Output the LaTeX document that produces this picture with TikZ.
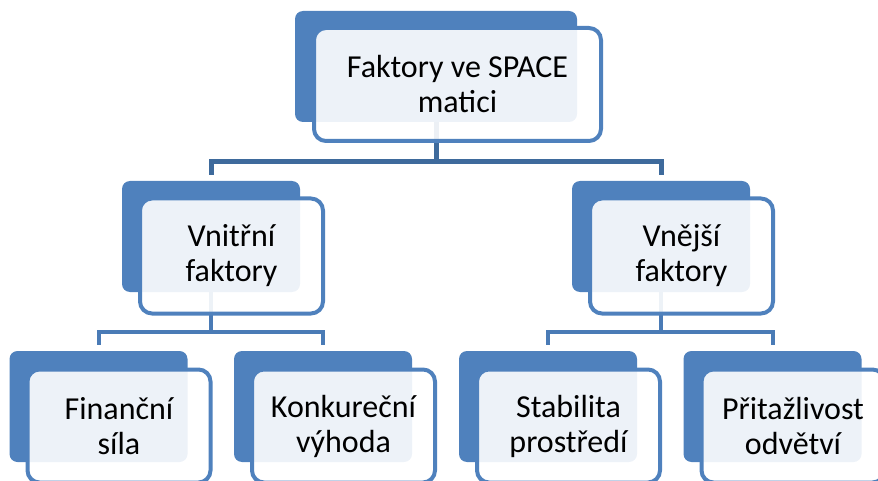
\documentclass[tikz,border=0pt]{standalone}
\usepackage{fontspec}
\setmainfont{Carlito}
\definecolor{spaceblue}{HTML}{4F81BD}
\definecolor{linkdark}{HTML}{3E6A9C}
\definecolor{linklight}{HTML}{4A7BB6}
\tikzset{
  backbox/.style={fill=spaceblue, rounded corners=8pt, inner sep=0pt,
    minimum width=178pt, minimum height=111pt},
  frontbox/.style={draw=spaceblue, line width=4pt, fill=white,
    fill opacity=0.9, text opacity=1, rounded corners=12pt, inner sep=0pt,
    minimum width=183pt, minimum height=115pt, align=center,
    font=\fontsize{32}{35}\selectfont},
  conn/.style={line width=5pt, draw=linkdark},      % top level links
  subconn/.style={line width=4pt, draw=linklight}   % lower links
}

\begin{document}
\begin{tikzpicture}[x=1pt,y=-1pt]
  \clip (0,0) rectangle (878,481);
  % dark boxes behind
  \node[backbox, minimum width=282pt] (faktoryb) at (436,66.5) {};
  \node[backbox] (vnitrnib)   at (211,236.5)   {};
  \node[backbox] (vnejsib)    at (661,236.5)   {};
  \node[backbox] (financnib)  at (98.5,406.5)  {};
  \node[backbox] (konkurb)    at (323,406.5)   {};
  \node[backbox] (stabilitab) at (548,406.5)   {};
  \node[backbox] (pritazb)    at (772.5,406.5) {};

  % links, drawn before the light boxes
  \coordinate (faktoryj) at ([yshift=-39pt]faktoryb.south);
  \draw[conn] (faktoryb.south) -- (faktoryj);
  \draw[conn] (faktoryj) -| ([yshift=6pt]vnitrnib.north);
  \draw[conn] (faktoryj) -| ([yshift=6pt]vnejsib.north);

  \coordinate (vnitrnij) at ([yshift=-40pt]vnitrnib.south);
  \draw[subconn] (vnitrnib.south) -- (vnitrnij);
  \draw[subconn] (vnitrnij) -| ([yshift=6pt]financnib.north);
  \draw[subconn] (vnitrnij) -| ([yshift=6pt]konkurb.north);

  \coordinate (vnejsij) at ([yshift=-40pt]vnejsib.south);
  \draw[subconn] (vnejsib.south) -- (vnejsij);
  \draw[subconn] (vnejsij) -| ([yshift=6pt]stabilitab.north);
  \draw[subconn] (vnejsij) -| ([yshift=6pt]pritazb.north);

  % light boxes with the texts
  \node[frontbox, minimum width=287pt, minimum height=113pt] (faktory)
    at ([shift={(21.5,18)}]faktoryb.center) {Faktory ve SPACE\\matici};
  \node[frontbox] (vnitrni) at ([shift={(20.5,19.5)}]vnitrnib.center) {Vnitřní\\faktory};
  \node[frontbox] (vnejsi)  at ([shift={(20.5,19.5)}]vnejsib.center)  {Vnější\\faktory};
  \node[frontbox, minimum height=113pt] (financni)
    at ([shift={(20.5,19.5)}]financnib.center) {Finanční\\síla};
  \node[frontbox, minimum height=113pt] (konkur)
    at ([shift={(20.5,19.5)}]konkurb.center) {Konkureční\\výhoda};
  \node[frontbox, minimum height=113pt] (stabilita)
    at ([shift={(20.5,19.5)}]stabilitab.center) {Stabilita\\prostředí};
  \node[frontbox, minimum height=113pt] (pritaz)
    at ([shift={(20.5,19.5)}]pritazb.center) {Přitažlivost\\odvětví};
\end{tikzpicture}
\end{document}
